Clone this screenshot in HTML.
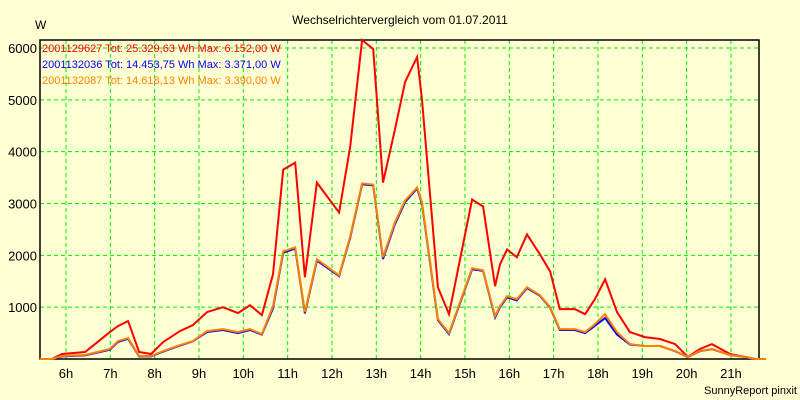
<!DOCTYPE html>
<html><head><meta charset="utf-8"><style>
body{margin:0;background:#ffffd4;}
svg{display:block;font-family:"Liberation Sans",sans-serif;}
</style></head><body>
<svg id="chart" width="800" height="400" viewBox="0 0 800 400">
<rect x="0" y="0" width="800" height="400" fill="#ffffd4"/>
<text x="400" y="24" font-size="12" text-anchor="middle" fill="#000">Wechselrichtervergleich vom 01.07.2011</text>
<text x="35" y="29" font-size="12" fill="#000">W</text>
<g id="grid"></g>
<g id="axes"></g>
<g id="series"></g>
<g font-size="11">
<text x="42" y="52" fill="#ff0000">2001129627 Tot: 25.329,63 Wh Max: 6.152,00 W</text>
<text x="42" y="68" fill="#0000ff">2001132036 Tot: 14.453,75 Wh Max: 3.371,00 W</text>
<text x="42" y="84" fill="#ff8000">2001132087 Tot: 14.618,13 Wh Max: 3.390,00 W</text>
</g>
<text x="797" y="394" font-size="11" text-anchor="end" fill="#000">SunnyReport pinxit</text>
</svg>
<script>
const hourTicks=[6,7,8,9,10,11,12,13,14,15,16,17,18,19,20,21];
const yTicks=[1000,2000,3000,4000,5000,6000];
const times=[5.41,5.68,5.91,6.43,6.99,7.17,7.40,7.65,7.92,8.19,8.57,8.86,9.18,9.54,9.88,10.15,10.42,10.67,10.90,11.17,11.39,11.66,12.16,12.41,12.68,12.93,13.15,13.42,13.65,13.92,14.03,14.39,14.64,15.16,15.41,15.68,15.79,15.95,16.17,16.40,16.69,16.92,17.14,17.48,17.71,17.93,18.16,18.43,18.72,19.06,19.40,19.74,20.03,20.30,20.57,20.98,21.32,21.55,21.79];
const red=[0,0,96,135,519,635,731,135,96,327,538,654,904,1000,885,1038,846,1635,3654,3788,1577,3404,2827,4096,6152,5981,3404,4423,5346,5827,5000,1385,865,3077,2942,1404,1827,2115,1962,2404,2019,1692,962,962,865,1154,1538,904,519,423,385,288,38,192,288,96,38,0,0];
const blue=[0,0,50,70,180,330,390,50,50,145,260,340,520,560,500,560,470,980,2050,2130,880,1900,1600,2340,3371,3350,1930,2600,3030,3290,2990,750,480,1730,1700,800,1000,1190,1130,1370,1220,990,560,560,500,640,790,470,280,250,250,150,38,150,190,77,38,0,0];
const orange=[0,0,58,77,192,346,404,58,58,154,269,346,538,577,519,577,481,1019,2077,2154,904,1923,1615,2365,3390,3365,1962,2635,3058,3308,3019,769,500,1750,1712,827,1019,1212,1154,1385,1231,1000,577,577,519,673,865,519,288,250,250,154,38,154,192,77,38,0,0];
const NS="http://www.w3.org/2000/svg";
const L=40,R=759,T=40,B=359;
const x=t=>66+(t-6)*44.33;
const y=v=>B-v*(B-48)/6000;
function mk(tag,attrs,parent){const e=document.createElementNS(NS,tag);for(const k in attrs)e.setAttribute(k,attrs[k]);parent.appendChild(e);return e;}
const grid=document.getElementById('grid'),axes=document.getElementById('axes'),series=document.getElementById('series');
yTicks.forEach(v=>{
  const ln=mk('line',{x1:L,x2:R,y1:y(v),y2:y(v),stroke:'#00ee00','stroke-dasharray':'4,3','stroke-width':1},grid);
  
  
  const tx=mk('text',{x:37,y:y(v)+5,'font-size':13,'text-anchor':'end',fill:'#000'},axes);
  tx.textContent=v;
  
  
});
hourTicks.forEach(h=>{
  const ln=mk('line',{x1:x(h),x2:x(h),y1:T,y2:B,stroke:'#00ee00','stroke-dasharray':'4,3','stroke-width':1},grid);
  
  
  const tx=mk('text',{x:x(h),y:378,'font-size':13,'text-anchor':'middle',fill:'#000'},axes);
  tx.textContent=h+'h';
  
  
});
const frame=mk('rect',{x:L,y:T,width:R-L,height:B-T,fill:'none',stroke:'#000','stroke-width':1.5},axes);


[[red,'#ff0000','series-2001129627'],[blue,'#0000ff','series-2001132036'],[orange,'#ff8000','series-2001132087']].forEach(([d,c,n])=>{
  const p=mk('polyline',{points:d.map((v,i)=>x(times[i]).toFixed(1)+','+y(v).toFixed(1)).join(' '),fill:'none',stroke:c,'stroke-width':2,'stroke-linejoin':'miter'},series);
  
  
});
</script>
</body></html>
